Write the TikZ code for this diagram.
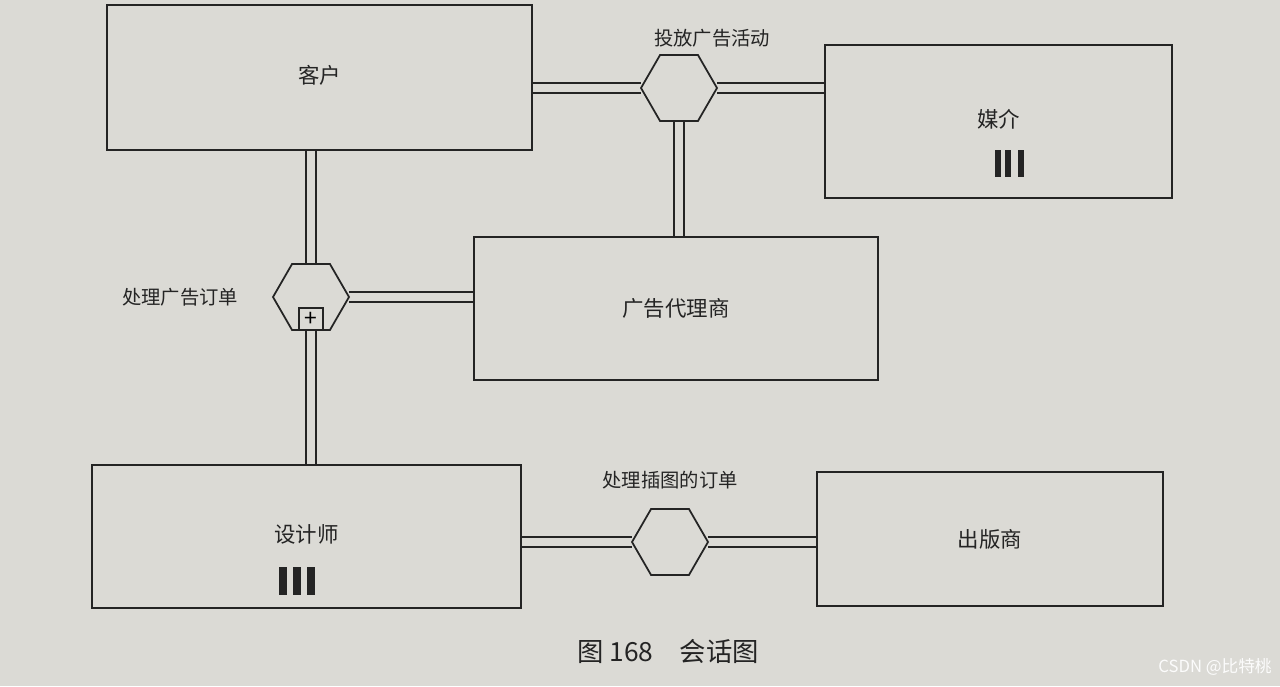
\documentclass[tikz,border=0pt]{standalone}
\usepackage{fontspec}
\setmainfont{Noto Sans CJK SC}
\usetikzlibrary{shapes.geometric,backgrounds}
\definecolor{papir}{RGB}{219,218,213}
\definecolor{blekk}{RGB}{36,36,36}
\tikzset{
  boks/.style = {draw=blekk, line width=1pt, fill=papir, inner sep=0pt, text=blekk, font=\fontsize{12.2}{14}\selectfont},
  sekskant/.style = {draw=blekk, line width=1pt, fill=papir, regular polygon, regular polygon sides=6, minimum size=1.52cm, inner sep=0pt, outer sep=0pt},
  samtale/.style = {draw=blekk, line width=1pt, double=papir, double distance=4.6pt},
  etikett/.style = {text=blekk, font=\fontsize{11}{13}\selectfont},
}
\begin{document}
\begin{tikzpicture}[x=0.02cm, y=-0.02cm]
\useasboundingbox (0,0) rectangle (1280,686);
%%
%% deltakere
\node [boks, minimum width=8.5cm, minimum height=2.9cm] (kehu) at (319.5,77.5) {\raisebox{3pt}{客户}};
\node [boks, minimum width=6.94cm, minimum height=3.06cm] (meijie) at (998.5,121.5) {\raisebox{4pt}{媒介}};
\node [boks, minimum width=8.08cm, minimum height=2.86cm] (dailishang) at (676,308.5) {广告代理商};
\node [boks, minimum width=8.58cm, minimum height=2.86cm] (shejishi) at (306.5,536.5) {\raisebox{3pt}{设计师}};
\node [boks, minimum width=6.92cm, minimum height=2.68cm] (chubanshang) at (990,539) {出版商};
%% fleire instansar
\foreach \x in {998,1008,1021}
  \fill [blekk] (\x-3,150) rectangle (\x+3,177);
\foreach \x in {283,297,311}
  \fill [blekk] (\x-4,567) rectangle (\x+4,595);
%%
%% samtalar
\node [sekskant] (hex1) at (679,88) {};
\node [sekskant] (hex2) at (311,297) {};
\node [sekskant] (hex3) at (670,542) {};
\node [draw=blekk, line width=1pt, fill=papir, minimum width=0.48cm, minimum height=0.44cm, inner sep=0pt, outer sep=0pt, anchor=south, font=\fontsize{13}{13}\selectfont] (pluss) at (hex2.south) {+};
%%
%% linjer (under boksane)
\begin{scope}[on background layer]
\fill [papir] (0,0) rectangle (1280,686);
\draw [samtale] (kehu.east |- hex1) -- (hex1.west);
\draw [samtale] (hex1.east) -- (hex1.east -| meijie.west);
\draw [samtale] (hex1.south) -- (hex1.south |- dailishang.north);
\draw [samtale] (hex2.north |- kehu.south) -- (hex2.north);
\draw [samtale] (hex2.east) -- (hex2.east -| dailishang.west);
\draw [samtale] (pluss.south) -- (pluss.south |- shejishi.north);
\draw [samtale] (shejishi.east |- hex3) -- (hex3.west);
\draw [samtale] (hex3.east) -- (hex3.east -| chubanshang.west);
\end{scope}
%%
%% tekstar
\node [etikett] (t1) at (712,38) {投放广告活动};
\node [etikett] (t2) at (180,297) {处理广告订单};
\node [etikett] (t3) at (670,480) {处理插图的订单};
\node [text=blekk, font=\fontsize{15}{17}\selectfont] (tittel) at (668,651) {图 168\quad 会话图};
\node [text=white!92!papir, font=\fontsize{9.5}{11}\selectfont] (merke) at (1215,667) {CSDN @比特桃};
\end{tikzpicture}
\end{document}
